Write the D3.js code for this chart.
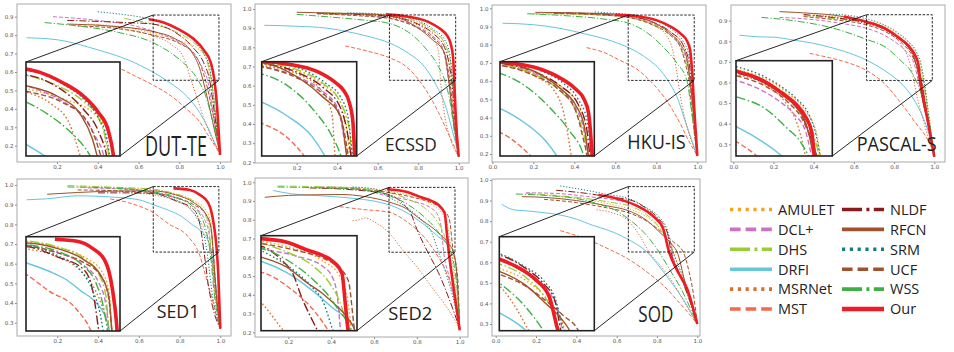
<!DOCTYPE html>
<html>
<head>
<meta charset="utf-8">
<script src="https://cdn.jsdelivr.net/npm/d3@7"></script>
<style>
  body { margin: 0; background: #fff; }
  svg { display: block; }
</style>
</head>
<body>
<svg id="chart" width="954" height="352"></svg>
<script>
// methods, in legend order
const methods = ["AMULET", "DCL+", "DHS", "DRFI", "MSRNet", "MST", "NLDF", "RFCN", "SRM", "UCF", "WSS", "Our"];
const methodColors = ["#f7a21b", "#cc72c4", "#9acd32", "#66c6dc", "#d8702e", "#f4694b", "#8b1a1a", "#a0522d", "#11807f", "#a0522d", "#3cb043", "#ee1c24"];
const methodStyles = ["dot", "dash", "dashdot", "solid", "dot", "dash", "dashdot", "solid", "dot", "dash", "dashdot", "solid"];

const datasets = ["DUT-TE", "ECSSD", "HKU-IS", "PASCAL-S", "SED1", "SED2", "SOD"];

// tick values per panel
const xTicks01 = [0.2, 0.4, 0.6, 0.8, 1.0];
const xTicks00 = [0.0, 0.2, 0.4, 0.6, 0.8, 1.0];
const yTicksDUTTE = [0.2, 0.3, 0.4, 0.5, 0.6, 0.7, 0.8, 0.9];
const yTicks2to10 = [0.2, 0.3, 0.4, 0.5, 0.6, 0.7, 0.8, 0.9, 1.0];
const yTicksPASCAL = [0.3, 0.4, 0.5, 0.6, 0.7, 0.8, 0.9];
const yTicks3to10 = [0.3, 0.4, 0.5, 0.6, 0.7, 0.8, 0.9, 1.0];

// precision-recall curves, [recall, precision]
const prDUTTE = {
  "AMULET": [[0.35,0.86],[0.55,0.84],[0.67,0.81],[0.8,0.77],[0.9,0.72],[0.935,0.68],[0.95,0.56],[0.97,0.4],[1.0,0.15]],
  "DCL+": [[0.18,0.9],[0.4,0.88],[0.6,0.845],[0.7,0.81],[0.8,0.76],[0.87,0.7],[0.91,0.63],[0.94,0.55],[0.96,0.42],[0.98,0.28],[1.0,0.15]],
  "DHS": [[0.53,0.89],[0.67,0.86],[0.78,0.82],[0.87,0.76],[0.92,0.7],[0.95,0.6],[0.965,0.5],[0.985,0.3],[1.0,0.16]],
  "DRFI": [[0.05,0.786],[0.2,0.775],[0.4,0.72],[0.55,0.665],[0.67,0.6],[0.75,0.545],[0.84,0.465],[0.9,0.38],[0.94,0.3],[0.98,0.2],[1.0,0.16]],
  "MSRNet": [[0.4,0.855],[0.55,0.83],[0.67,0.797],[0.76,0.75],[0.82,0.68],[0.86,0.55],[0.89,0.45],[0.93,0.32],[0.97,0.22],[1.0,0.16]],
  "MST": [[0.49,0.63],[0.58,0.58],[0.67,0.53],[0.76,0.47],[0.84,0.395],[0.9,0.33],[0.94,0.26],[0.975,0.2],[1.0,0.155]],
  "NLDF": [[0.25,0.88],[0.5,0.87],[0.67,0.86],[0.78,0.815],[0.87,0.73],[0.92,0.65],[0.95,0.55],[0.97,0.4],[1.0,0.15]],
  "RFCN": [[0.25,0.86],[0.45,0.85],[0.67,0.82],[0.78,0.78],[0.86,0.71],[0.9,0.62],[0.92,0.54],[0.95,0.4],[0.98,0.25],[1.0,0.16]],
  "SRM": [[0.4,0.927],[0.5,0.915],[0.6,0.9],[0.7,0.875],[0.8,0.825],[0.87,0.77],[0.92,0.7],[0.95,0.62],[0.965,0.5],[0.98,0.35],[1.0,0.15]],
  "UCF": [[0.3,0.85],[0.5,0.835],[0.67,0.8],[0.8,0.755],[0.88,0.69],[0.91,0.62],[0.93,0.55],[0.96,0.4],[1.0,0.16]],
  "WSS": [[0.14,0.868],[0.3,0.85],[0.5,0.815],[0.67,0.76],[0.75,0.71],[0.82,0.65],[0.89,0.56],[0.93,0.47],[0.96,0.35],[1.0,0.17]],
  "Our": [[0.65,0.886],[0.72,0.87],[0.8,0.83],[0.87,0.78],[0.92,0.72],[0.955,0.65],[0.972,0.56],[0.985,0.42],[1.0,0.15]]
};

const prECSSD = {
  "AMULET": [[0.35,0.975],[0.55,0.97],[0.66,0.96],[0.78,0.935],[0.87,0.885],[0.93,0.82],[0.95,0.73],[0.96,0.63],[0.98,0.42],[1.0,0.23]],
  "DCL+": [[0.3,0.978],[0.5,0.972],[0.66,0.952],[0.78,0.915],[0.87,0.86],[0.92,0.8],[0.94,0.7],[0.95,0.63],[0.97,0.45],[1.0,0.23]],
  "DHS": [[0.33,0.98],[0.5,0.975],[0.66,0.965],[0.78,0.94],[0.87,0.89],[0.93,0.82],[0.96,0.72],[0.97,0.6],[0.99,0.4],[1.0,0.23]],
  "DRFI": [[0.04,0.915],[0.2,0.91],[0.35,0.9],[0.45,0.882],[0.56,0.855],[0.66,0.822],[0.75,0.77],[0.83,0.7],[0.89,0.6],[0.93,0.51],[0.97,0.36],[1.0,0.24]],
  "MSRNet": [[0.35,0.972],[0.5,0.968],[0.66,0.955],[0.78,0.925],[0.86,0.87],[0.9,0.78],[0.91,0.63],[0.93,0.45],[0.96,0.32],[1.0,0.23]],
  "MST": [[0.44,0.807],[0.55,0.78],[0.66,0.745],[0.74,0.7],[0.81,0.62],[0.86,0.54],[0.9,0.46],[0.94,0.37],[0.97,0.3],[1.0,0.23]],
  "NLDF": [[0.3,0.978],[0.5,0.972],[0.66,0.962],[0.78,0.93],[0.87,0.875],[0.93,0.8],[0.955,0.7],[0.965,0.63],[0.98,0.45],[1.0,0.23]],
  "RFCN": [[0.2,0.983],[0.4,0.978],[0.6,0.972],[0.7,0.955],[0.8,0.9],[0.87,0.84],[0.93,0.77],[0.95,0.63],[0.97,0.45],[1.0,0.23]],
  "SRM": [[0.45,0.98],[0.6,0.975],[0.7,0.965],[0.8,0.94],[0.88,0.89],[0.93,0.84],[0.955,0.77],[0.97,0.63],[0.985,0.45],[1.0,0.23]],
  "UCF": [[0.3,0.975],[0.5,0.965],[0.66,0.95],[0.78,0.91],[0.86,0.86],[0.92,0.79],[0.945,0.7],[0.955,0.63],[0.975,0.45],[1.0,0.23]],
  "WSS": [[0.2,0.972],[0.4,0.955],[0.55,0.94],[0.66,0.924],[0.75,0.88],[0.84,0.79],[0.9,0.7],[0.93,0.63],[0.96,0.5],[0.98,0.35],[1.0,0.23]],
  "Our": [[0.64,0.972],[0.75,0.96],[0.85,0.933],[0.91,0.895],[0.94,0.865],[0.96,0.82],[0.972,0.75],[0.978,0.63],[0.985,0.45],[1.0,0.23]]
};

const prHKUIS = {
  "AMULET": [[0.3,0.972],[0.5,0.968],[0.66,0.955],[0.78,0.92],[0.87,0.87],[0.93,0.8],[0.955,0.7],[0.965,0.6],[0.98,0.42],[1.0,0.19]],
  "DCL+": [[0.3,0.975],[0.5,0.97],[0.66,0.955],[0.78,0.918],[0.87,0.86],[0.92,0.79],[0.95,0.7],[0.965,0.6],[0.98,0.42],[1.0,0.19]],
  "DHS": [[0.2,0.97],[0.4,0.968],[0.6,0.96],[0.7,0.945],[0.8,0.905],[0.87,0.85],[0.92,0.78],[0.95,0.68],[0.965,0.6],[0.98,0.42],[1.0,0.19]],
  "DRFI": [[0.05,0.918],[0.2,0.91],[0.33,0.89],[0.45,0.86],[0.54,0.835],[0.62,0.805],[0.69,0.77],[0.76,0.72],[0.82,0.66],[0.87,0.58],[0.9,0.515],[0.95,0.35],[1.0,0.19]],
  "MSRNet": [[0.35,0.97],[0.5,0.965],[0.66,0.95],[0.78,0.91],[0.85,0.85],[0.88,0.77],[0.9,0.65],[0.92,0.5],[0.95,0.35],[1.0,0.19]],
  "MST": [[0.46,0.784],[0.55,0.755],[0.62,0.716],[0.7,0.67],[0.78,0.59],[0.84,0.51],[0.88,0.44],[0.92,0.36],[0.95,0.29],[1.0,0.19]],
  "NLDF": [[0.3,0.975],[0.5,0.97],[0.66,0.958],[0.78,0.925],[0.87,0.87],[0.93,0.8],[0.96,0.7],[0.97,0.6],[0.985,0.42],[1.0,0.19]],
  "RFCN": [[0.21,0.978],[0.4,0.975],[0.6,0.968],[0.7,0.955],[0.8,0.915],[0.87,0.86],[0.92,0.8],[0.95,0.72],[0.965,0.6],[0.98,0.45],[1.0,0.19]],
  "SRM": [[0.5,0.98],[0.6,0.972],[0.7,0.962],[0.8,0.93],[0.88,0.88],[0.93,0.82],[0.96,0.74],[0.975,0.6],[0.985,0.42],[1.0,0.19]],
  "UCF": [[0.3,0.972],[0.5,0.965],[0.66,0.95],[0.78,0.91],[0.86,0.86],[0.92,0.78],[0.945,0.68],[0.96,0.6],[0.975,0.42],[1.0,0.19]],
  "WSS": [[0.17,0.97],[0.35,0.96],[0.55,0.94],[0.66,0.92],[0.75,0.87],[0.84,0.78],[0.9,0.7],[0.95,0.6],[0.97,0.45],[1.0,0.19]],
  "Our": [[0.6,0.965],[0.7,0.958],[0.8,0.935],[0.87,0.9],[0.92,0.86],[0.95,0.82],[0.965,0.77],[0.975,0.65],[0.985,0.45],[1.0,0.19]]
};

const prPASCAL = {
  "AMULET": [[0.4,0.93],[0.55,0.915],[0.66,0.9],[0.76,0.87],[0.84,0.82],[0.9,0.76],[0.935,0.69],[0.95,0.61],[0.97,0.47],[1.0,0.24]],
  "DCL+": [[0.23,0.916],[0.4,0.905],[0.55,0.885],[0.66,0.864],[0.75,0.83],[0.8,0.8],[0.86,0.75],[0.9,0.69],[0.92,0.61],[0.95,0.48],[1.0,0.24]],
  "DHS": [[0.35,0.925],[0.5,0.91],[0.66,0.89],[0.76,0.86],[0.84,0.81],[0.9,0.74],[0.93,0.67],[0.945,0.61],[0.97,0.45],[1.0,0.24]],
  "DRFI": [[0.03,0.83],[0.12,0.822],[0.2,0.82],[0.3,0.806],[0.4,0.79],[0.5,0.766],[0.6,0.735],[0.67,0.705],[0.75,0.66],[0.8,0.625],[0.86,0.57],[0.9,0.515],[0.96,0.39],[1.0,0.26]],
  "MSRNet": [[0.4,0.925],[0.55,0.91],[0.66,0.885],[0.76,0.85],[0.83,0.79],[0.87,0.72],[0.89,0.65],[0.91,0.55],[0.95,0.4],[1.0,0.24]],
  "MST": [[0.38,0.741],[0.48,0.72],[0.58,0.693],[0.66,0.66],[0.75,0.596],[0.81,0.53],[0.86,0.467],[0.91,0.4],[0.95,0.35],[1.0,0.26]],
  "NLDF": [[0.35,0.93],[0.5,0.915],[0.66,0.89],[0.76,0.855],[0.84,0.8],[0.89,0.74],[0.92,0.66],[0.935,0.61],[0.96,0.47],[1.0,0.24]],
  "RFCN": [[0.23,0.944],[0.4,0.935],[0.5,0.927],[0.6,0.91],[0.66,0.895],[0.75,0.86],[0.82,0.815],[0.87,0.77],[0.9,0.72],[0.92,0.64],[0.94,0.52],[0.97,0.4],[1.0,0.24]],
  "SRM": [[0.48,0.932],[0.58,0.925],[0.66,0.91],[0.75,0.88],[0.82,0.84],[0.87,0.8],[0.91,0.75],[0.935,0.68],[0.95,0.6],[0.97,0.45],[1.0,0.24]],
  "UCF": [[0.35,0.92],[0.5,0.905],[0.66,0.88],[0.76,0.845],[0.84,0.79],[0.89,0.73],[0.92,0.66],[0.94,0.6],[0.96,0.47],[1.0,0.24]],
  "WSS": [[0.14,0.916],[0.3,0.9],[0.5,0.863],[0.66,0.81],[0.76,0.77],[0.84,0.7],[0.88,0.66],[0.93,0.56],[0.96,0.46],[0.98,0.38],[1.0,0.24]],
  "Our": [[0.55,0.92],[0.66,0.895],[0.75,0.865],[0.82,0.82],[0.87,0.78],[0.9,0.74],[0.92,0.69],[0.93,0.61],[0.95,0.5],[0.97,0.4],[1.0,0.24]]
};

const prSED1 = {
  "AMULET": [[0.3,0.99],[0.5,0.985],[0.67,0.975],[0.78,0.955],[0.87,0.92],[0.93,0.87],[0.955,0.8],[0.965,0.66],[0.98,0.45],[1.0,0.27]],
  "DCL+": [[0.35,0.985],[0.5,0.98],[0.67,0.963],[0.78,0.935],[0.87,0.89],[0.92,0.83],[0.945,0.75],[0.955,0.66],[0.975,0.45],[1.0,0.27]],
  "DHS": [[0.25,0.997],[0.45,0.99],[0.67,0.978],[0.78,0.955],[0.87,0.915],[0.92,0.86],[0.945,0.78],[0.955,0.66],[0.975,0.45],[1.0,0.27]],
  "DRFI": [[0.05,0.925],[0.15,0.93],[0.3,0.945],[0.45,0.94],[0.6,0.925],[0.67,0.9],[0.75,0.87],[0.81,0.84],[0.86,0.8],[0.9,0.77],[0.95,0.69],[0.97,0.55],[0.99,0.4],[1.0,0.3]],
  "MSRNet": [[0.4,0.975],[0.55,0.965],[0.67,0.95],[0.78,0.92],[0.86,0.87],[0.91,0.8],[0.94,0.72],[0.955,0.66],[0.975,0.45],[1.0,0.27]],
  "MST": [[0.46,0.929],[0.55,0.91],[0.67,0.86],[0.75,0.8],[0.84,0.74],[0.9,0.64],[0.93,0.53],[0.96,0.42],[0.98,0.34],[1.0,0.27]],
  "NLDF": [[0.4,0.96],[0.55,0.96],[0.67,0.957],[0.78,0.92],[0.87,0.875],[0.9,0.8],[0.92,0.66],[0.94,0.5],[0.97,0.35],[1.0,0.27]],
  "RFCN": [[0.15,0.953],[0.3,0.962],[0.45,0.968],[0.6,0.97],[0.67,0.97],[0.78,0.95],[0.87,0.91],[0.93,0.85],[0.955,0.78],[0.965,0.66],[0.98,0.45],[1.0,0.27]],
  "SRM": [[0.5,0.985],[0.6,0.975],[0.67,0.96],[0.78,0.925],[0.86,0.87],[0.9,0.8],[0.925,0.72],[0.935,0.66],[0.96,0.45],[1.0,0.27]],
  "UCF": [[0.3,0.975],[0.5,0.97],[0.67,0.96],[0.78,0.935],[0.87,0.9],[0.93,0.85],[0.955,0.77],[0.965,0.66],[0.98,0.45],[1.0,0.27]],
  "WSS": [[0.25,0.99],[0.45,0.985],[0.67,0.965],[0.78,0.94],[0.86,0.895],[0.91,0.83],[0.935,0.75],[0.95,0.66],[0.97,0.45],[1.0,0.27]],
  "Our": [[0.77,0.983],[0.85,0.975],[0.9,0.95],[0.94,0.91],[0.955,0.87],[0.968,0.8],[0.98,0.7],[0.99,0.55],[1.0,0.27]]
};

const prSED2 = {
  "AMULET": [[0.4,0.975],[0.55,0.97],[0.67,0.952],[0.78,0.925],[0.87,0.88],[0.92,0.83],[0.945,0.76],[0.96,0.63],[0.98,0.45],[1.0,0.22]],
  "DCL+": [[0.35,0.975],[0.5,0.97],[0.67,0.925],[0.78,0.9],[0.87,0.86],[0.9,0.82],[0.915,0.75],[0.925,0.63],[0.95,0.5],[0.98,0.35],[1.0,0.22]],
  "DHS": [[0.15,0.98],[0.3,0.978],[0.5,0.97],[0.67,0.945],[0.76,0.91],[0.84,0.86],[0.89,0.8],[0.92,0.74],[0.94,0.67],[0.96,0.55],[0.98,0.4],[1.0,0.22]],
  "DRFI": [[0.13,0.956],[0.22,0.938],[0.37,0.927],[0.5,0.915],[0.6,0.9],[0.67,0.88],[0.75,0.84],[0.81,0.795],[0.86,0.75],[0.9,0.71],[0.95,0.665],[0.975,0.62],[0.99,0.45],[1.0,0.22]],
  "MSRNet": [[0.5,0.795],[0.53,0.8],[0.56,0.81],[0.6,0.79],[0.67,0.73],[0.74,0.63],[0.8,0.55],[0.87,0.44],[0.93,0.35],[1.0,0.22]],
  "MST": [[0.44,0.87],[0.55,0.855],[0.67,0.84],[0.77,0.775],[0.84,0.7],[0.89,0.62],[0.93,0.54],[0.96,0.45],[0.98,0.35],[1.0,0.22]],
  "NLDF": [[0.3,0.97],[0.5,0.96],[0.67,0.935],[0.74,0.88],[0.77,0.84],[0.8,0.75],[0.85,0.63],[0.9,0.52],[0.95,0.38],[1.0,0.22]],
  "RFCN": [[0.09,0.92],[0.2,0.93],[0.3,0.933],[0.45,0.935],[0.55,0.925],[0.67,0.895],[0.75,0.86],[0.82,0.8],[0.87,0.76],[0.91,0.72],[0.95,0.67],[0.97,0.63],[0.99,0.45],[1.0,0.22]],
  "SRM": [[0.5,0.975],[0.6,0.965],[0.67,0.92],[0.76,0.86],[0.83,0.79],[0.87,0.73],[0.9,0.63],[0.94,0.5],[0.97,0.38],[1.0,0.22]],
  "UCF": [[0.35,0.97],[0.5,0.965],[0.67,0.945],[0.78,0.92],[0.87,0.89],[0.91,0.865],[0.95,0.81],[0.97,0.63],[0.99,0.5],[1.0,0.22]],
  "WSS": [[0.15,0.975],[0.3,0.972],[0.5,0.965],[0.67,0.93],[0.76,0.88],[0.84,0.81],[0.89,0.75],[0.92,0.7],[0.95,0.65],[0.975,0.55],[0.99,0.4],[1.0,0.22]],
  "Our": [[0.66,0.963],[0.75,0.95],[0.82,0.92],[0.87,0.9],[0.9,0.88],[0.93,0.835],[0.94,0.73],[0.95,0.62],[0.97,0.45],[1.0,0.21]]
};

const prSOD = {
  "AMULET": [[0.3,0.92],[0.45,0.905],[0.58,0.88],[0.66,0.86],[0.75,0.82],[0.82,0.76],[0.87,0.69],[0.9,0.6],[0.94,0.5],[0.97,0.4],[1.0,0.3]],
  "DCL+": [[0.15,0.938],[0.3,0.935],[0.45,0.92],[0.58,0.905],[0.66,0.89],[0.75,0.85],[0.82,0.79],[0.86,0.72],[0.88,0.63],[0.92,0.53],[0.96,0.42],[1.0,0.3]],
  "DHS": [[0.15,0.935],[0.3,0.925],[0.45,0.91],[0.58,0.89],[0.66,0.875],[0.75,0.83],[0.81,0.77],[0.85,0.7],[0.87,0.63],[0.91,0.54],[0.96,0.42],[1.0,0.3]],
  "DRFI": [[0.03,0.882],[0.09,0.855],[0.15,0.85],[0.25,0.84],[0.32,0.83],[0.4,0.81],[0.48,0.78],[0.56,0.755],[0.65,0.715],[0.75,0.65],[0.85,0.53],[0.93,0.42],[1.0,0.3]],
  "MSRNet": [[0.5,0.855],[0.58,0.84],[0.66,0.8],[0.72,0.72],[0.76,0.65],[0.82,0.58],[0.88,0.5],[0.94,0.4],[1.0,0.3]],
  "MST": [[0.32,0.754],[0.4,0.73],[0.48,0.7],[0.57,0.66],[0.65,0.62],[0.72,0.575],[0.78,0.53],[0.85,0.47],[0.9,0.415],[0.95,0.36],[1.0,0.3]],
  "NLDF": [[0.3,0.95],[0.45,0.935],[0.58,0.915],[0.66,0.905],[0.75,0.86],[0.81,0.81],[0.85,0.75],[0.87,0.65],[0.91,0.55],[0.96,0.42],[1.0,0.3]],
  "RFCN": [[0.13,0.919],[0.25,0.915],[0.4,0.9],[0.55,0.875],[0.66,0.85],[0.74,0.81],[0.82,0.74],[0.88,0.68],[0.9,0.65],[0.94,0.5],[0.97,0.4],[1.0,0.3]],
  "SRM": [[0.32,0.971],[0.45,0.95],[0.55,0.93],[0.66,0.91],[0.74,0.87],[0.81,0.82],[0.85,0.76],[0.88,0.65],[0.92,0.55],[0.96,0.43],[1.0,0.3]],
  "UCF": [[0.24,0.906],[0.4,0.89],[0.55,0.865],[0.66,0.84],[0.75,0.8],[0.82,0.75],[0.88,0.7],[0.93,0.65],[0.96,0.55],[0.98,0.45],[1.0,0.3]],
  "WSS": [[0.1,0.932],[0.25,0.925],[0.4,0.91],[0.52,0.88],[0.6,0.85],[0.66,0.81],[0.74,0.74],[0.81,0.65],[0.86,0.57],[0.92,0.47],[1.0,0.3]],
  "Our": [[0.51,0.927],[0.58,0.915],[0.65,0.895],[0.72,0.865],[0.78,0.825],[0.83,0.765],[0.86,0.65],[0.9,0.56],[0.95,0.47],[1.0,0.3]]
};

const curvesByDataset = [prDUTTE, prECSSD, prHKUIS, prPASCAL, prSED1, prSED2, prSOD];

// layout: axes frame, two anchor ticks per axis, zoom window (data units), inset box, label box
const panels = [
  {frame: [17, 4, 231, 162], xa: [0.2, 57, 1.0, 220], ya: [0.9, 16.7, 0.2, 145.7], xt: xTicks01, yt: yTicksDUTTE,
   zoom: [0.672, 0.995, 0.555, 0.909], inset: [26, 62, 120, 156], label: [145, 155.7, 62, 27]},
  {frame: [255, 4, 469, 163], xa: [0.2, 296.7, 1.0, 458.7], ya: [1.0, 9, 0.2, 162.3], xt: xTicks01, yt: yTicks2to10,
   zoom: [0.658, 0.985, 0.628, 0.969], inset: [261.7, 61.7, 356.7, 156], label: [385, 151, 51.7, 18]},
  {frame: [492, 5, 706, 162], xa: [0.0, 492.3, 1.0, 697.3], ya: [1.0, 8.3, 0.2, 154], xt: xTicks00, yt: yTicks2to10,
   zoom: [0.663, 0.985, 0.604, 0.963], inset: [500, 61.7, 594.3, 156], label: [627.3, 149, 58.4, 19.6]},
  {frame: [731, 5, 945, 162], xa: [0.0, 733.3, 1.0, 934.3], ya: [0.9, 20.7, 0.3, 144.3], xt: xTicks00, yt: yTicksPASCAL,
   zoom: [0.663, 0.99, 0.61, 0.929], inset: [736, 60.7, 832.3, 156], label: [856.7, 151, 80, 20]},
  {frame: [17, 179, 231, 336], xa: [0.2, 57.3, 1.0, 220.3], ya: [1.0, 185, 0.3, 322.7], xt: xTicks01, yt: yTicks3to10,
   zoom: [0.671, 0.993, 0.659, 0.992], inset: [26, 236.7, 120, 331], label: [156.7, 317.7, 42.6, 17.8]},
  {frame: [255, 178, 468, 337], xa: [0.2, 288.3, 1.0, 459.7], ya: [1.0, 182.3, 0.2, 332.3], xt: xTicks01, yt: yTicks2to10,
   zoom: [0.670, 0.978, 0.627, 0.973], inset: [261, 235.7, 357, 330.7], label: [388.3, 320, 44, 18.6]},
  {frame: [492, 179, 700, 336], xa: [0.0, 495.7, 1.0, 697.3], ya: [1.0, 180, 0.3, 324], xt: xTicks00, yt: yTicks3to10,
   zoom: [0.658, 0.985, 0.65, 0.968], inset: [499.3, 236.7, 594.3, 330.7], label: [638.3, 322.3, 35, 22]}
];

const svg = d3.select("#chart");
const defs = svg.append("defs");

function dashFor(style, k) {
  if (style === "dot") return [1.2 * k, 1.8 * k].join(",");
  if (style === "dash") return [4 * k, 2 * k].join(",");
  if (style === "dashdot") return [7 * k, 2 * k, 1.2 * k, 2 * k].join(",");
  return null;
}

function drawCurves(g, curves, x, y, thin, thick, k) {
  const line = d3.line()
    .x(d => x(d[0]))
    .y(d => y(d[1]))
    .curve(d3.curveMonotoneX);
  methods.forEach((m, i) => {
    g.append("path")
      .datum(curves[m])
      .attr("fill", "none")
      .attr("stroke", methodColors[i])
      .attr("stroke-width", m === "Our" ? thick : thin)
      .attr("stroke-dasharray", dashFor(methodStyles[i], k))
      .attr("d", line);
  });
}

panels.forEach((p, idx) => {
  const curves = curvesByDataset[idx];
  const [fl, ft, fr, fb] = p.frame;
  const x = d3.scaleLinear().domain([p.xa[0], p.xa[2]]).range([p.xa[1], p.xa[3]]);
  const y = d3.scaleLinear().domain([p.ya[0], p.ya[2]]).range([p.ya[1], p.ya[3]]);

  const g = svg.append("g");

  // axes
  const fmt = d3.format(".1f");
  const xAxis = g.append("g")
    .attr("transform", "translate(0," + fb + ")")
    .call(d3.axisBottom(x).tickValues(p.xt).tickFormat(fmt).tickSize(2).tickPadding(1.5));
  const yAxis = g.append("g")
    .attr("transform", "translate(" + fl + ",0)")
    .call(d3.axisLeft(y).tickValues(p.yt).tickFormat(fmt).tickSize(2).tickPadding(1.5));
  [xAxis, yAxis].forEach(a => {
    a.select(".domain").remove();
    a.selectAll("line").attr("stroke", "#888");
    a.selectAll("text").attr("fill", "#555").style("font-family", "DejaVu Sans").style("font-size", "5.5px");
  });

  // main plot
  const clipId = "clip" + idx;
  defs.append("clipPath").attr("id", clipId)
    .append("rect").attr("x", fl).attr("y", ft).attr("width", fr - fl).attr("height", fb - ft);
  const main = g.append("g").attr("clip-path", "url(#" + clipId + ")");
  drawCurves(main, curves, x, y, 1, 2.6, 1);

  // zoom window and connectors
  const [zx0, zx1, zy0, zy1] = p.zoom;
  const [il, it, ir, ib] = p.inset;
  g.append("rect")
    .attr("x", x(zx0)).attr("y", y(zy1))
    .attr("width", x(zx1) - x(zx0)).attr("height", y(zy0) - y(zy1))
    .attr("fill", "none").attr("stroke", "#111").attr("stroke-width", 0.9)
    .attr("stroke-dasharray", "2.5,1.5");
  g.append("line").attr("x1", il).attr("y1", it).attr("x2", x(zx0)).attr("y2", y(zy1))
    .attr("stroke", "#111").attr("stroke-width", 0.9);
  g.append("line").attr("x1", ir).attr("y1", ib).attr("x2", x(zx1)).attr("y2", y(zy0))
    .attr("stroke", "#111").attr("stroke-width", 0.9);

  // inset
  const xi = d3.scaleLinear().domain([zx0, zx1]).range([il, ir]);
  const yi = d3.scaleLinear().domain([zy0, zy1]).range([ib, it]);
  g.append("rect").attr("x", il).attr("y", it).attr("width", ir - il).attr("height", ib - it).attr("fill", "#fff");
  const insetClip = "iclip" + idx;
  defs.append("clipPath").attr("id", insetClip)
    .append("rect").attr("x", il).attr("y", it).attr("width", ir - il).attr("height", ib - it);
  const ins = g.append("g").attr("clip-path", "url(#" + insetClip + ")");
  drawCurves(ins, curves, xi, yi, 1.4, 3.6, 1.3);
  g.append("rect").attr("x", il).attr("y", it).attr("width", ir - il).attr("height", ib - it)
    .attr("fill", "none").attr("stroke", "#222").attr("stroke-width", 1.6);

  // frame
  g.append("rect").attr("x", fl).attr("y", ft).attr("width", fr - fl).attr("height", fb - ft)
    .attr("fill", "none").attr("stroke", "#aaa").attr("stroke-width", 1);

  // dataset label
  const [lx, lb, lw, fs] = p.label;
  g.append("text")
    .attr("x", lx).attr("y", lb)
    .attr("textLength", lw).attr("lengthAdjust", "spacingAndGlyphs")
    .style("font-family", "'Open Sans', sans-serif")
    .style("font-size", fs + "px")
    .attr("fill", "#222")
    .text(datasets[idx]);
});

// legend
const legend = svg.append("g");
const legendRow = d3.scaleLinear().domain([0, 5]).range([209.5, 309]);
const legendCols = [[730, 772, 778], [842, 884, 890]];
function legendDash(style) {
  if (style === "dot") return "3.2,4.6";
  if (style === "dash") return "10.6,5";
  if (style === "dashdot") return "20,4.4,3,4.4";
  return null;
}
methods.forEach((m, i) => {
  const col = legendCols[Math.floor(i / 6)];
  const yy = legendRow(i % 6);
  legend.append("line")
    .attr("x1", col[0]).attr("x2", col[1]).attr("y1", yy).attr("y2", yy)
    .attr("stroke", methodColors[i])
    .attr("stroke-width", m === "Our" ? 4.4 : 3.6)
    .attr("stroke-dasharray", legendDash(methodStyles[i]));
  legend.append("text")
    .attr("x", col[2]).attr("y", yy + 5.3)
    .style("font-family", "'Open Sans', sans-serif")
    .style("font-size", "14.5px")
    .attr("fill", "#222")
    .text(m);
});
</script>
</body>
</html>
